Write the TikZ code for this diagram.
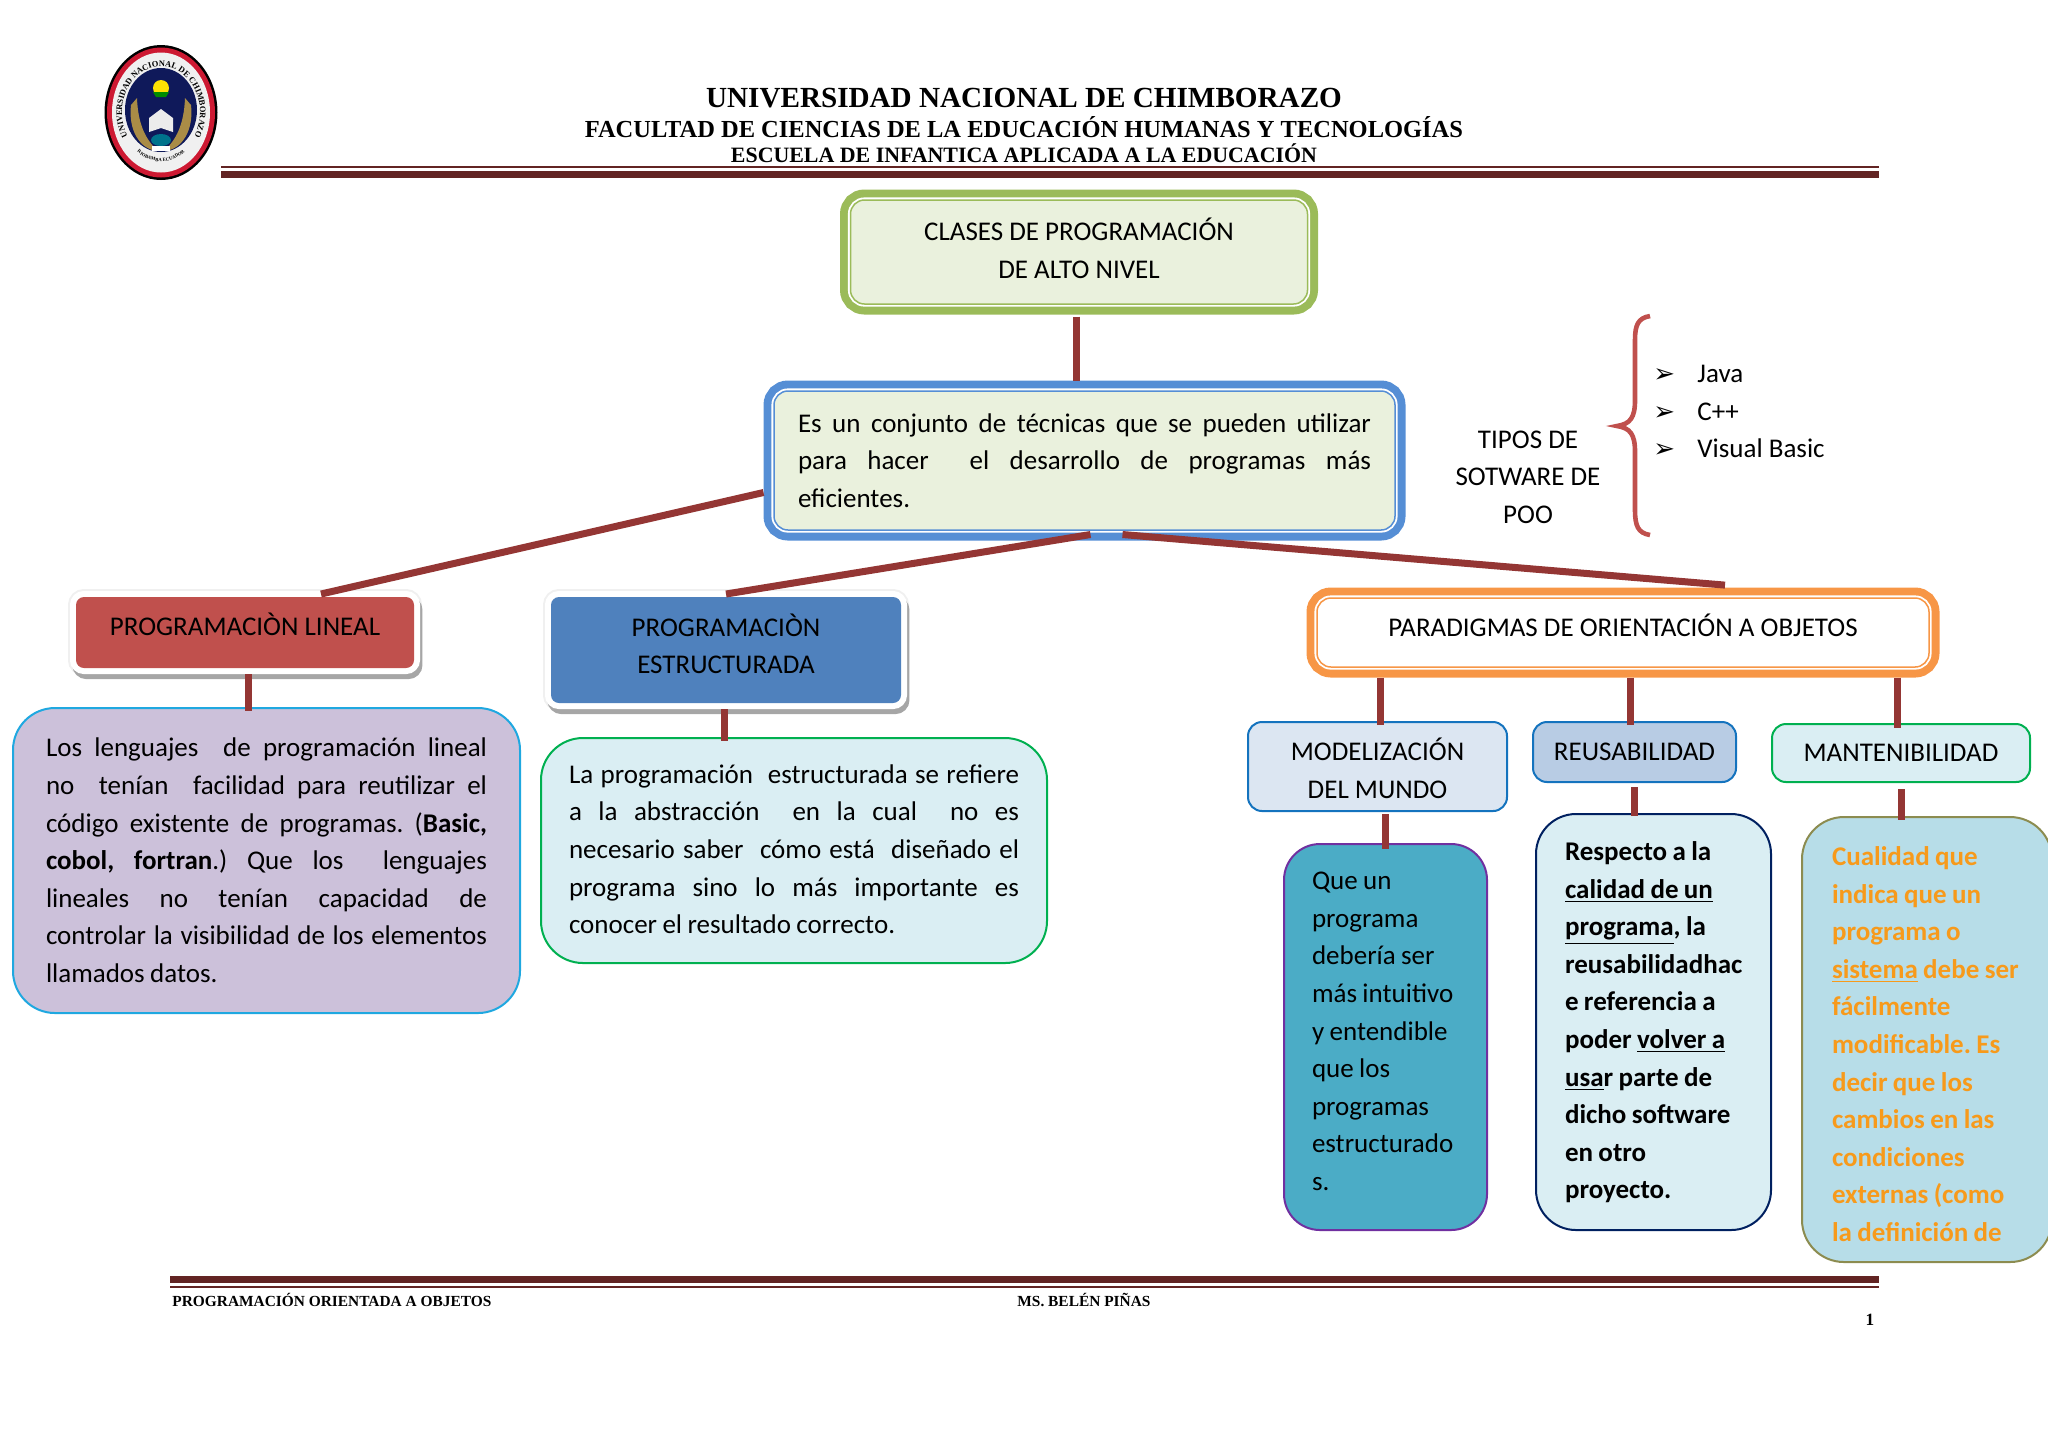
\documentclass[tikz,border=0pt]{standalone}
\usepackage{fontspec}
\setmainfont{Carlito}
\newfontfamily\headfont{Liberation Serif}
\newfontfamily\symfont{DejaVu Sans}
\usetikzlibrary{decorations.text}

\definecolor{rulered}{RGB}{98, 36, 35}
\definecolor{linkred}{RGB}{148, 54, 52}
\definecolor{pgreen}{RGB}{155, 187, 89}
\definecolor{pgreenlt}{RGB}{234, 241, 221}
\definecolor{pblue}{RGB}{85, 142, 213}
\definecolor{pbluemid}{RGB}{79, 129, 189}
\definecolor{porange}{RGB}{247, 150, 70}
\definecolor{pred}{RGB}{192, 80, 77}
\definecolor{plilac}{RGB}{204, 193, 218}
\definecolor{psky}{RGB}{31, 168, 224}
\definecolor{pmint}{RGB}{218, 238, 243}
\definecolor{pgrass}{RGB}{0, 176, 80}
\definecolor{pteal}{RGB}{75, 172, 198}
\definecolor{ppurple}{RGB}{112, 48, 160}
\definecolor{pnavy}{RGB}{0, 32, 96}
\definecolor{polive}{RGB}{140, 140, 80}
\definecolor{paqua}{RGB}{183, 221, 232}
\definecolor{ptext}{RGB}{247, 154, 27}
\definecolor{pdrawblue}{RGB}{20, 115, 190}
\definecolor{pfog}{RGB}{220, 230, 242}
\definecolor{psteel}{RGB}{184, 204, 228}
\definecolor{lognavy}{RGB}{15, 25, 90}
\definecolor{logred}{RGB}{205, 25, 50}
\definecolor{logwheat}{RGB}{170, 140, 70}

\newcommand{\jline}[1]{\makebox[\hsize][s]{\spaceskip=.17em plus 1fil\relax #1}}
\newcommand{\gapword}{\hskip .17em plus 1fil\relax}

\tikzset{
    bodytext/.style = {
        font  = \fontsize{13.5}{18.8}\selectfont,
        align = center,
        inner sep = 0pt
    },
    framebox/.style = {
        bodytext,
        draw        = #1,
        line width  = 0.75pt,
        rounded corners = 7pt,
        outer sep   = 5.25pt,
        preaction   = {draw = #1, line width = 10.5pt},
        preaction   = {draw = white, line width = 2.6pt}
    },
    raisedbox/.style = {
        bodytext,
        fill        = #1,
        rounded corners = 4pt,
        outer sep   = 3pt,
        preaction   = {draw = black!6, line width = 8pt},
        preaction   = {draw = black!35, line width = 6pt,
                       transform canvas = {xshift = 1.2pt, yshift = -2.5pt}},
        preaction   = {draw = white, line width = 6pt}
    },
    softbox/.style 2 args = {
        bodytext,
        draw        = #1,
        fill        = #2,
        line width  = 1pt,
        rounded corners = 7pt
    },
    notebox/.style 2 args = {
        bodytext,
        draw        = #1,
        fill        = #2,
        line width  = 1pt,
        rounded corners = 21pt,
        align       = left,
        execute at begin node = {\frenchspacing\spaceskip=.2em\relax}
    },
    link/.style = {
        draw       = linkred,
        line width = 3.5pt
    },
    headline/.style = {
        font      = \headfont\bfseries,
        inner sep = 0pt
    }
}

\begin{document}
\begin{tikzpicture}[x=0.5pt, y=-0.5pt]
    \useasboundingbox (0,0) rectangle (2048,1448);

    % escudo
    \fill[black] (161,112.5) ellipse [x radius=56.5, y radius=67.5];
    \fill[logred] (161,112.5) ellipse [x radius=54, y radius=65];
    \fill[white!88!gray] (161,112.5) ellipse [x radius=49, y radius=60];
    \fill[lognavy] (161,110) ellipse [x radius=36, y radius=42];
    \fill[logwheat] (131,105) .. controls (128,130) and (140,150) .. (158,151) .. controls (146,140) and (138,125) .. (137,98) -- cycle;
    \fill[logwheat] (191,105) .. controls (194,130) and (182,150) .. (164,151) .. controls (176,140) and (184,125) .. (185,98) -- cycle;
    \fill[yellow!85!orange] (161,88) ellipse [x radius=8, y radius=8];
    \fill[green!55!black] (153,92) -- (169,92) -- (166,97) -- (156,97) -- cycle;
    \fill[white!85!gray] (149,118) -- (161,109) -- (173,118) -- (173,132) -- (161,128) -- (149,132) -- cycle;
    \fill[green!45!blue] (161,140) ellipse [x radius=10, y radius=6];
    \fill[white] (152,146) rectangle (170,151);
    \path[decorate, decoration={text along path, text align=center,
        text={|\fontsize{4.2}{5}\headfont\bfseries|UNIVERSIDAD NACIONAL DE CHIMBORAZO}}]
        (161,112.5) ++(125:39 and 46) arc [start angle=125, end angle=415, x radius=39, y radius=46];
    \path[decorate, decoration={text along path, text align=center,
        text={|\fontsize{2.4}{3}\headfont\bfseries|RIOBAMBA ECUADOR}}]
        (161,112.5) ++(125:40 and 49) arc [start angle=125, end angle=55, x radius=40, y radius=49];

    % encabezado
    \node[headline, font=\headfont\bfseries\fontsize{14.58}{16}\selectfont] (titulo) at (1024,98) {UNIVERSIDAD NACIONAL DE CHIMBORAZO};
    \node[headline, font=\headfont\bfseries\fontsize{12.24}{14}\selectfont] (facultad) at (1024,127) {FACULTAD DE CIENCIAS DE LA EDUCACIÓN HUMANAS Y TECNOLOGÍAS};
    \node[headline, font=\headfont\bfseries\fontsize{10.95}{13}\selectfont] (escuela) at (1024,153) {ESCUELA DE INFANTICA APLICADA A LA EDUCACIÓN};
    \fill[rulered] (221,166) rectangle (1879,168);
    \fill[rulered] (221,171) rectangle (1879,178);

    % cajas
    \node[framebox=pgreen, fill=pgreenlt, minimum width=228.5pt, minimum height=52pt, text depth=4pt] (clases) at (1079,252) {
        CLASES DE PROGRAMACIÓN\\
        DE ALTO NIVEL
    };
    \node[framebox=pblue, fill=pgreenlt, minimum width=310.5pt, minimum height=69.5pt, text width=286.5pt, align=left] (concepto) at (1084.5,460.5) {
        \jline{Es un conjunto de técnicas que se pueden utilizar}\\
        \jline{para hacer\gapword{} el desarrollo de programas más}\\
        eficientes.
    };
    \node[raisedbox=pred, minimum width=169pt, minimum height=35.5pt, text depth=8pt] (lineal) at (245,632.5) {PROGRAMACIÒN LINEAL};
    \node[raisedbox=pbluemid, minimum width=175pt, minimum height=53pt, text depth=6.3pt] (estructurada) at (726,650) {
        PROGRAMACIÒN\\
        ESTRUCTURADA
    };
    \node[framebox=porange, fill=white, minimum width=306pt, minimum height=34.5pt, text depth=7pt] (paradigmas) at (1623,632.5) {PARADIGMAS DE ORIENTACIÓN A OBJETOS};

    \node[notebox={psky}{plilac}, minimum width=253.5pt, minimum height=152.5pt, text width=220.5pt] (txtlineal) at (266.5,860.5) {
        \jline{Los lenguajes\gapword{} de programación lineal}\\
        \jline{no\gapword{} tenían\gapword{} facilidad para reutilizar el}\\
        \jline{código existente de programas. (\textbf{Basic,}}\\
        \jline{\textbf{cobol, fortran}.) Que los\gapword{} lenguajes}\\
        \jline{lineales no tenían capacidad de}\\
        \jline{controlar la visibilidad de los elementos}\\
        llamados datos.
    };
    \node[notebox={pgrass}{pmint}, minimum width=253pt, minimum height=112.5pt, text width=225pt, text depth=76.5pt] (txtestruct) at (794,850.5) {
        \jline{La programación\gapword{} estructurada se refiere}\\
        \jline{a la abstracción\gapword{} en la cual\gapword{} no es}\\
        \jline{necesario saber\gapword{} cómo está\gapword{} diseñado el}\\
        \jline{programa sino lo más importante es}\\
        conocer el resultado correcto.
    };

    \node[softbox={pdrawblue}{pfog}, minimum width=129.5pt, minimum height=44.5pt] (modelo) at (1377.5,766.5) {
        \rule{0pt}{13pt}MODELIZACIÓN\\
        DEL MUNDO
    };
    \node[softbox={pdrawblue}{psteel}, minimum width=101.5pt, minimum height=30pt] (reuso) at (1634.5,752) {REUSABILIDAD};
    \node[softbox={pgrass}{pmint}, minimum width=129pt, minimum height=29pt] (manten) at (1901,753) {MANTENIBILIDAD};

    \node[notebox={ppurple}{pteal}, rounded corners=18pt, minimum width=101.5pt, minimum height=193pt, text width=73.5pt, text depth=156pt] (txtmodelo) at (1385.5,1037) {
        Que un\\
        programa\\
        debería ser\\
        más intuitivo\\
        y entendible\\
        que los\\
        programas\\
        estructurado\\
        s.
    };
    \node[notebox={pnavy}{pmint}, rounded corners=20pt, minimum width=117.5pt, minimum height=208pt, text width=88.5pt, text depth=170.9pt, font=\fontsize{13.5}{18.8}\selectfont\bfseries] (txtreuso) at (1653.5,1022) {
        Respecto a la\\
        \underline{calidad de un}\\
        \underline{programa}, la\\
        reusabilidadhac\\
        e referencia a\\
        poder \underline{volver a}\\
        \underline{usa}r parte de\\
        dicho software\\
        en otro\\
        proyecto.
    };
    \node[notebox={polive}{paqua}, rounded corners=21pt, minimum width=125pt, minimum height=222.5pt, text width=95pt, text depth=183.5pt, text=ptext, font=\fontsize{13.5}{18.8}\selectfont\bfseries] (txtmanten) at (1927,1039.5) {
        Cualidad que\\
        indica que un\\
        programa o\\
        \mbox{\underline{sistema} debe ser}\\
        fácilmente\\
        modificable. Es\\
        decir que los\\
        cambios en las\\
        condiciones\\
        externas (como\\
        la definición de
    };

    % tipos
    \node[bodytext] (tipos) at (1528,477) {
        TIPOS DE\\
        SOTWARE DE\\
        POO
    };
    \node[bodytext, align=left, anchor=north west] (lista) at (1653,365) {
        \makebox[22pt][l]{\symfont\fontsize{13}{13}\selectfont ➢}Java\\
        \makebox[22pt][l]{\symfont\fontsize{13}{13}\selectfont ➢}C++\\
        \makebox[22pt][l]{\symfont\fontsize{13}{13}\selectfont ➢}Visual Basic
    };
    \draw[pred, line width=2.3pt] (1650,316) .. controls (1638,318) and (1635,325) .. (1635,340) -- (1635,400) .. controls (1635,418) and (1630,424) .. (1617,426) .. controls (1630,428) and (1635,434) .. (1635,452) -- (1635,510) .. controls (1635,526) and (1638,533) .. (1650,535);

    % conectores
    \draw[link] ([xshift=-1.5pt, yshift=-1pt]clases.south) -- ([xshift=-4.25pt]concepto.north);
    \draw[link] ([yshift=-16pt]concepto.west) -- ([xshift=38pt, yshift=-1.5pt]lineal.north);
    \draw[link] ([xshift=3pt, yshift=3pt]concepto.south) -- ([yshift=-1.5pt]estructurada.north);
    \draw[link] ([xshift=19pt, yshift=3pt]concepto.south) -- ([xshift=51pt, yshift=1.2pt]paradigmas.north);
    \draw[link] ([xshift=1.5pt]lineal.south) -- ([xshift=-9.25pt, yshift=-2pt]txtlineal.north);
    \draw[link] ([xshift=-1pt]estructurada.south) -- ([xshift=-35pt, yshift=-2pt]txtestruct.north);
    \draw[link] ([xshift=-121.5pt]paradigmas.south) -- ([xshift=1.25pt, yshift=-2pt]modelo.north);
    \draw[link] ([xshift=3.5pt]paradigmas.south) -- ([xshift=-2.25pt, yshift=-2pt]reuso.north);
    \draw[link] ([xshift=137pt]paradigmas.south) -- ([xshift=-2pt, yshift=-2.5pt]manten.north);
    \draw[link] ([xshift=4pt, yshift=-1pt]modelo.south) -- ([yshift=-3pt]txtmodelo.north);
    \draw[link] ([yshift=-2pt]reuso.south) -- ([xshift=-9.5pt, yshift=-1.5pt]txtreuso.north);
    \draw[link] ([yshift=-3pt]manten.south) -- ([xshift=-13pt, yshift=-2pt]txtmanten.north);

    % pie
    \fill[rulered] (170,1276) rectangle (1879,1283);
    \fill[rulered] (170,1285.5) rectangle (1879,1287.5);
    \node[headline, font=\headfont\bfseries\fontsize{7.7}{10}\selectfont, anchor=west] (piecurso) at (172,1300) {PROGRAMACIÓN ORIENTADA A OBJETOS};
    \node[headline, font=\headfont\bfseries\fontsize{7.7}{10}\selectfont, anchor=west] (piedocente) at (1017,1300) {MS. BELÉN PIÑAS};
    \node[headline, font=\headfont\bfseries\fontsize{8.6}{10}\selectfont] (piepagina) at (1870,1320) {1};
\end{tikzpicture}
\end{document}
